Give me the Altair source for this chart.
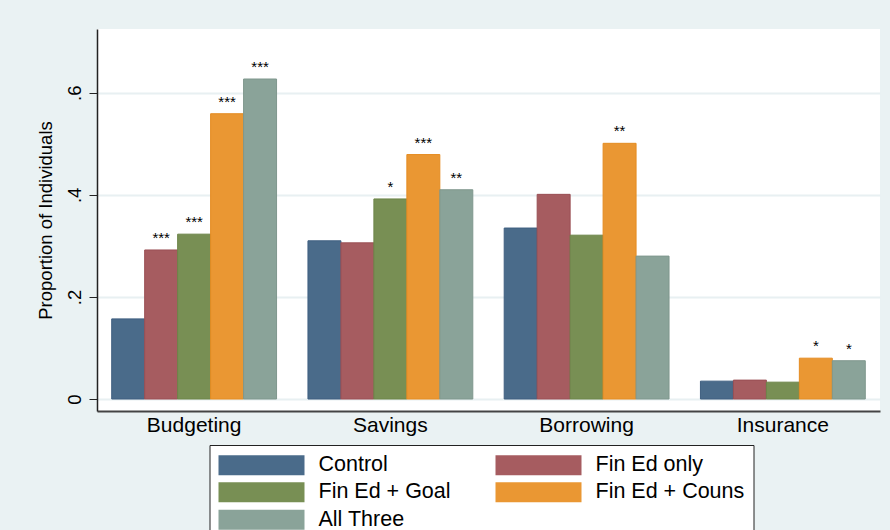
import altair as alt
import pandas as pd

categories = ["Budgeting", "Savings", "Borrowing", "Insurance"]
groups = ["Control", "Fin Ed only", "Fin Ed + Goal", "Fin Ed + Couns", "All Three"]
colors = ["#4a6b8a", "#a65c60", "#788f54", "#ea9733", "#8aa399"]
strokes = ["#3f5f80", "#9a4f54", "#6c8448", "#e58c22", "#7f978d"]

# proportion of individuals, one list per treatment group (order of categories)
control = [0.157, 0.310, 0.335, 0.035]
fin_ed_only = [0.292, 0.306, 0.401, 0.037]
fin_ed_goal = [0.323, 0.392, 0.321, 0.033]
fin_ed_couns = [0.559, 0.479, 0.501, 0.080]
all_three = [0.627, 0.410, 0.280, 0.075]

# significance stars
stars_control = ["", "", "", ""]
stars_fin_ed_only = ["***", "", "", ""]
stars_fin_ed_goal = ["***", "*", "", ""]
stars_fin_ed_couns = ["***", "***", "**", "*"]
stars_all_three = ["***", "**", "", "*"]

y_ticks = [0, 0.2, 0.4, 0.6]

series = [control, fin_ed_only, fin_ed_goal, fin_ed_couns, all_three]
star_series = [stars_control, stars_fin_ed_only, stars_fin_ed_goal,
               stars_fin_ed_couns, stars_all_three]

rows = []
for g, vals, st in zip(groups, series, star_series):
    for c, v, s in zip(categories, vals, st):
        rows.append({"Category": c, "Group": g, "Value": v, "Stars": s})
df = pd.DataFrame(rows)

FONT = "Liberation Sans"

x_enc = alt.X(
    "Category:N",
    sort=categories,
    scale=alt.Scale(paddingInner=0.16, paddingOuter=0.075),
    axis=alt.Axis(
        title=None, labelAngle=0, ticks=False, tickSize=0, labelPadding=3,
        labelFontSize=21, labelFont=FONT, labelColor="black",
        domainColor="#444444", domainWidth=2, grid=False,
    ),
)
xoff_enc = alt.XOffset(
    "Group:N", sort=groups, scale=alt.Scale(paddingInner=0, paddingOuter=0)
)
y_scale = alt.Scale(domain=[-0.0235, 0.725], nice=False, zero=False)

bars = alt.Chart(df).mark_bar(strokeWidth=1, opacity=1).encode(
    x=x_enc,
    xOffset=xoff_enc,
    y=alt.Y(
        "Value:Q",
        scale=y_scale,
        axis=alt.Axis(
            title="Proportion of Individuals",
            titleFontSize=18.5, titleFont=FONT, titleColor="black",
            titleFontWeight="normal", titleAngle=270, titleBaseline="alphabetic",
            titleX=-46,
            values=y_ticks,
            labelExpr="datum.value == 0 ? '0' : replace(format(datum.value, '.1f'), '0.', '.')",
            labelAngle=270, labelAlign="center", labelBaseline="alphabetic",
            labelFontSize=18.5, labelFont=FONT, labelColor="black", labelPadding=9,
            tickSize=8, tickColor="#222222", tickWidth=1,
            domainColor="#222222", domainWidth=1.5,
            grid=True, gridColor="#e8f0f2", gridWidth=2,
        ),
    ),
    y2=alt.datum(0),
    fill=alt.Fill(
        "Group:N",
        sort=groups,
        scale=alt.Scale(domain=groups, range=colors),
        legend=alt.Legend(
            title=None, orient="none", legendX=112.5, legendY=416,
            direction="horizontal",
            columns=2, columnPadding=44, rowPadding=4.5,
            symbolType="M-2.15,-2H15.05V2H-2.15Z", symbolSize=100,
            symbolStrokeWidth=0, symbolOpacity=1,
            labelOffset=78.5, labelFontSize=21.5, labelFont=FONT, labelColor="black",
            labelLimit=300,
            padding=9, strokeColor="#222222", fillColor="white",
        ),
    ),
    stroke=alt.Stroke(
        "Group:N", sort=groups,
        scale=alt.Scale(domain=groups, range=strokes), legend=None,
    ),
)

labels = alt.Chart(df).mark_text(
    font=FONT, fontSize=15, baseline="alphabetic", dy=-7, color="black"
).encode(
    x=alt.X("Category:N", sort=categories),
    xOffset=alt.XOffset("Group:N", sort=groups),
    y=alt.Y("Value:Q", scale=y_scale),
    text="Stars:N",
)

chart = (
    alt.layer(bars, labels)
    .properties(
        width=783, height=382,
        autosize=alt.AutoSizeParams(type="none"),
        padding={"left": 97, "top": 29, "right": 10, "bottom": 119},
        background="#eaf2f3",
    )
    .configure_view(fill="white", stroke=None)
)

chart.save("out.html", embed_options={"renderer": "svg", "actions": False})
